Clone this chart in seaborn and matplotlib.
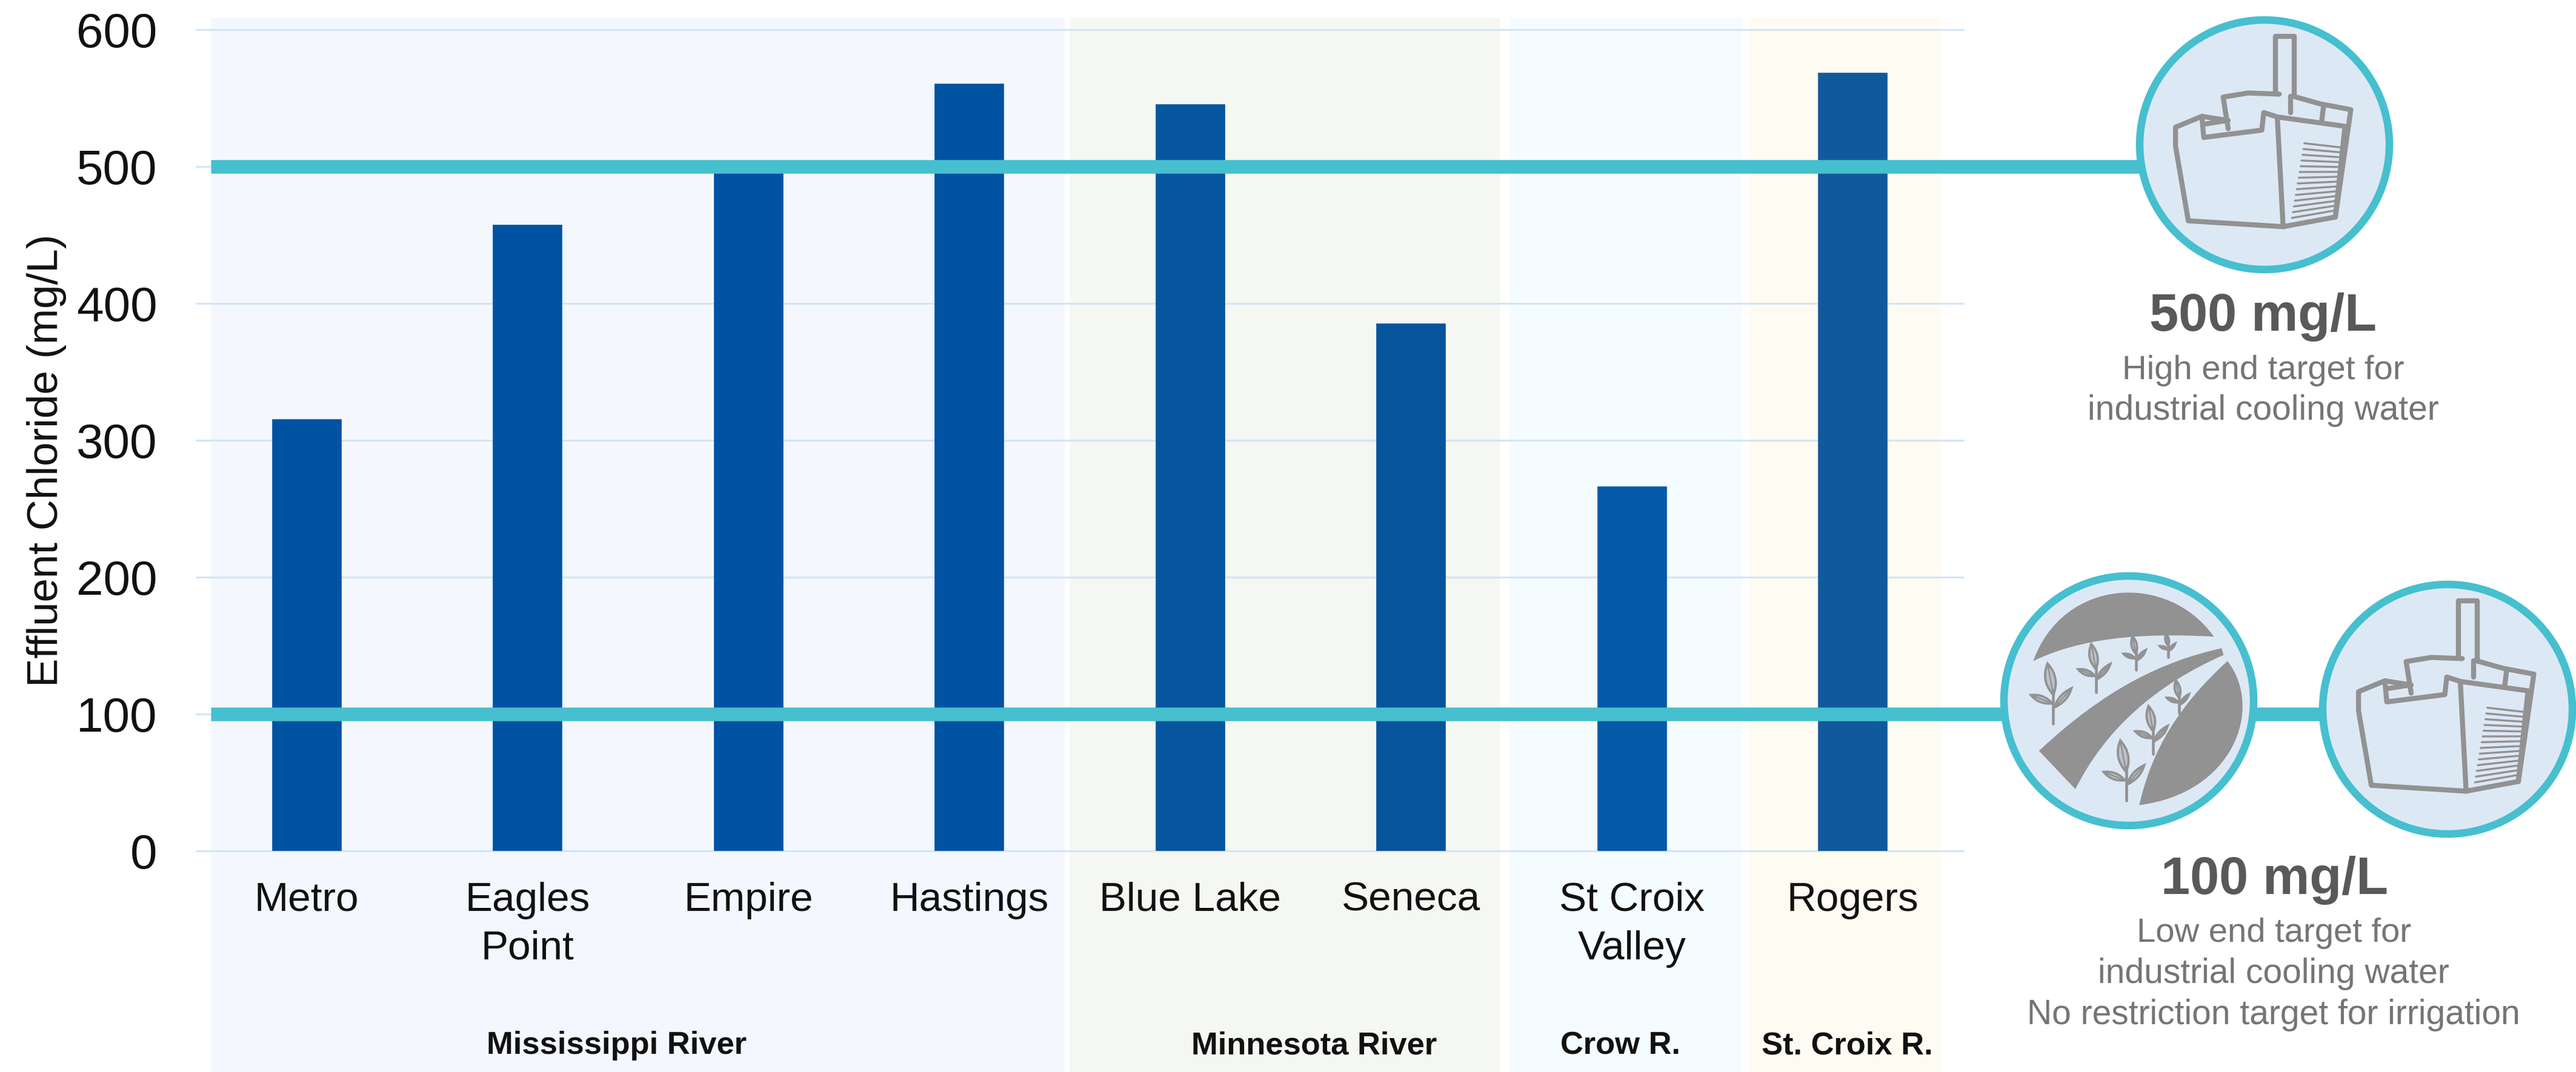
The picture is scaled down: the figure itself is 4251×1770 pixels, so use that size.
import matplotlib
matplotlib.use("Agg")
import matplotlib.pyplot as plt
from matplotlib.patches import Circle, PathPatch, Rectangle
from matplotlib.path import Path
from matplotlib.transforms import blended_transform_factory
import pandas as pd
import seaborn as sns

# Effluent chloride by treatment plant
plants = ["Metro", "Eagles\nPoint", "Empire", "Hastings", "Blue Lake", "Seneca", "St Croix\nValley", "Rogers"]
chloride = [315, 457, 498, 560, 545, 385, 266, 568]
bar_colors = ["#0053A3", "#0053A3", "#0053A3", "#0053A3", "#05569E", "#05549C", "#045AA8", "#105A9C"]
y_ticks = [0, 100, 200, 300, 400, 500, 600]

# Receiving-water bands: label, left edge, right edge, label centre, fill
rivers = ["Mississippi River", "Minnesota River", "Crow R.", "St. Croix R."]
river_left = [348, 1766, 2491, 2887]
river_right = [1757, 2475, 2874, 3203]
river_label_x = [1018, 2169, 2674, 3048]
river_fill = ["#F4F8FE", "#F5F7F3", "#F5FCFF", "#FEFBF2"]

# Reuse targets
high_target = 500
low_target = 100

W, H = 4251, 1770
TEAL = "#46BFCF"
ICON_GRAY = "#929292"
ICON_FILL = "#DDE8F5"
BOLD_TEXT = "#595959"
NOTE_TEXT = "#757575"

sns.set_style("white")
plt.rcParams["font.family"] = ["Liberation Sans", "DejaVu Sans"]

fig = plt.figure(figsize=((W + 0.01) / 300, (H + 0.01) / 300), dpi=300, facecolor="white")

# Pixel-addressed layer behind the chart for the river bands
back = fig.add_axes([0, 0, 1, 1], zorder=0)
back.set_xlim(0, W)
back.set_ylim(H, 0)
back.axis("off")
for left, right, fill in zip(river_left, river_right, river_fill):
    back.add_patch(Rectangle((left, 29), right - left, H - 29, facecolor=fill, edgecolor="none"))

# Chart axes
AX_L, AX_R, AX_T, AX_B = 324, 3240, 49, 1405
ax = fig.add_axes([AX_L / W, 1 - AX_B / H, (AX_R - AX_L) / W, (AX_B - AX_T) / H], zorder=1)
ax.patch.set_visible(False)

frame = pd.DataFrame({"plant": plants, "chloride": chloride})
sns.barplot(data=frame, x="plant", y="chloride", hue="plant", palette=bar_colors, dodge=False,
            width=0.31, saturation=1, legend=False, ax=ax, zorder=3)
for bar in ax.patches:
    bar.set_edgecolor(bar.get_facecolor())
    bar.set_linewidth(0.4)
ax.set_xlim(-0.5, len(plants) - 0.5)
ax.set_ylim(0, 600)
ax.set_yticks(y_ticks)
ax.set_axisbelow(True)
ax.grid(axis="y", color="#D3E5F5", linewidth=0.75)
ax.grid(axis="x", visible=False)
for line in ax.get_ygridlines():
    line.set_clip_on(False)
sns.despine(ax=ax, left=True, bottom=True, top=True, right=True)
ax.tick_params(axis="both", length=0)
ax.tick_params(axis="y", labelsize=19.2, pad=15.5, labelcolor="#111111")
ax.tick_params(axis="x", labelsize=16.2, pad=12.2, labelcolor="#111111")
for label in ax.get_xticklabels():
    label.set_linespacing(1.37)
ax.set_xlabel("")
ax.set_ylabel("Effluent Chloride (mg/L)", fontsize=17, color="#111111", va="center")
ax.yaxis.set_label_coords((77 - AX_L) / (AX_R - AX_L), (AX_B - 760) / (AX_B - AX_T))

# Target lines run past the plot area and into the icons
span = blended_transform_factory(ax.transAxes, ax.transData)
def x_frac(px):
    return (px - AX_L) / (AX_R - AX_L)
ax.plot([x_frac(348), x_frac(3737)], [high_target, high_target], transform=span, color=TEAL,
        linewidth=5.4, solid_capstyle="butt", clip_on=False, zorder=4)
ax.plot([x_frac(348), x_frac(4039)], [low_target, low_target], transform=span, color=TEAL,
        linewidth=5.4, solid_capstyle="butt", clip_on=False, zorder=4)

# Pixel-addressed layer in front for icons and annotations
front = fig.add_axes([0, 0, 1, 1], zorder=2)
front.set_xlim(0, W)
front.set_ylim(H, 0)
front.axis("off")

for name, cx in zip(rivers, river_label_x):
    front.text(cx, 1740, name, ha="center", va="baseline", fontsize=12.6, fontweight="bold", color="#111111")


def badge(cx, cy, r=212):
    front.add_patch(Circle((cx, cy), r - 6, facecolor=ICON_FILL, edgecolor=TEAL, linewidth=3.0,
                           clip_on=False, zorder=5))


def tower(cx, cy):
    # Cooling tower line art, outlined on a stretched sketch grid around the badge centre
    def pt(u, v):
        return (cx + (u - 762) / 1.566, cy + (v - 495) / 2.07)
    strokes = [
        [(790, 322), (790, 125), (838, 125), (838, 328)],
        [(668, 440), (655, 332), (720, 318), (800, 322)],
        [(838, 330), (905, 355), (985, 375), (945, 742), (810, 775), (565, 755), (532, 500), (532, 435), (600, 398), (668, 412)],
        [(600, 398), (605, 470), (755, 445), (760, 385), (795, 400), (810, 775)],
        [(795, 400), (970, 432), (945, 742)],
        [(830, 330), (830, 385)],
        [(915, 358), (910, 412)],
        [(605, 425), (665, 412)],
    ]
    for stroke in strokes:
        xs, ys = zip(*[pt(u, v) for u, v in stroke])
        front.plot(xs, ys, color=ICON_GRAY, linewidth=2.0, solid_joinstyle="round", zorder=6)
    for i in range(14):
        t = i / 13
        a = pt(865 - 32 * t, 490 + 255 * t)
        b = pt(965 - 22 * t, 505 + 215 * t)
        front.plot([a[0], b[0]], [a[1], b[1]], color=ICON_GRAY, linewidth=0.8, zorder=6)


def farm(cx, cy):
    # Irrigated field: three curved furrows with rows of seedlings
    def pt(u, v):
        return (cx + (u - 410) / 1.566, cy + (v - 457) / 1.787)

    def fill_shape(points, codes):
        front.add_patch(PathPatch(Path([pt(u, v) for u, v in points], codes), facecolor=ICON_GRAY,
                                  edgecolor="none", zorder=6))

    M, L, C3, C4 = Path.MOVETO, Path.LINETO, Path.CURVE3, Path.CURVE4
    fill_shape([(163, 340), (240, 95), (510, 75), (630, 268), (430, 255), (280, 275), (163, 340)],
               [M, C4, C4, C4, C4, C4, C4])
    fill_shape([(178, 605), (350, 420), (500, 340), (650, 302), (655, 322), (480, 410), (350, 540), (272, 718), (178, 605)],
               [M, C4, C4, C4, L, C4, C4, C4, L])
    fill_shape([(665, 340), (760, 480), (680, 730), (437, 765), (470, 600), (540, 470), (665, 340)],
               [M, C4, C4, C4, C4, C4, C4])

    def leaf(base, tip, width):
        (bu, bv), (tu, tv) = base, tip
        mu, mv = (bu + tu) / 2, (bv + tv) / 2
        nu, nv = -(tv - bv), tu - bu
        length = (nu * nu + nv * nv) ** 0.5
        nu, nv = nu / length * width, nv / length * width
        verts = [pt(bu, bv), pt(mu + nu, mv + nv), pt(tu, tv), pt(mu - nu, mv - nv), pt(bu, bv)]
        front.add_patch(PathPatch(Path(verts, [M, C3, C3, C3, C3]), facecolor="#BCC2CA",
                                  edgecolor=ICON_GRAY, linewidth=0.9, zorder=6))
        a, b = pt(bu, bv), pt(tu, tv)
        front.plot([a[0], b[0]], [a[1], b[1]], color=ICON_GRAY, linewidth=0.6, zorder=7)

    seedlings = [(215, 525, 1.0), (325, 432, 0.8), (428, 365, 0.55), (512, 328, 0.38),
                 (540, 495, 0.55), (473, 615, 0.8), (403, 752, 1.0)]
    for u, v, s in seedlings:
        a, b = pt(u, v), pt(u, v - 100 * s)
        front.plot([a[0], b[0]], [a[1], b[1]], color=ICON_GRAY, linewidth=1.1, zorder=7)
        leaf((u, v - 85 * s), (u - 15 * s, v - 178 * s), 26 * s)
        leaf((u - 3 * s, v - 60 * s), (u - 58 * s, v - 85 * s), 18 * s)
        leaf((u + 3 * s, v - 48 * s), (u + 47 * s, v - 105 * s), 16 * s)


badge(3737, 239)
tower(3737, 239)
badge(3513, 1157)
farm(3513, 1157)
badge(4039, 1171)
tower(4039, 1171)

# Target captions
front.text(3735, 546, "500 mg/L", ha="center", va="baseline", fontsize=20.8, fontweight="bold", color=BOLD_TEXT)
front.text(3735, 626, "High end target for", ha="center", va="baseline", fontsize=13.5, color=NOTE_TEXT)
front.text(3735, 693, "industrial cooling water", ha="center", va="baseline", fontsize=13.7, color=NOTE_TEXT)
front.text(3754, 1476, "100 mg/L", ha="center", va="baseline", fontsize=20.8, fontweight="bold", color=BOLD_TEXT)
front.text(3752, 1555, "Low end target for", ha="center", va="baseline", fontsize=13.5, color=NOTE_TEXT)
front.text(3752, 1623, "industrial cooling water", ha="center", va="baseline", fontsize=13.7, color=NOTE_TEXT)
front.text(3752, 1691, "No restriction target for irrigation", ha="center", va="baseline", fontsize=13.7, color=NOTE_TEXT)

fig.savefig("out.png", dpi=300, facecolor="white")
